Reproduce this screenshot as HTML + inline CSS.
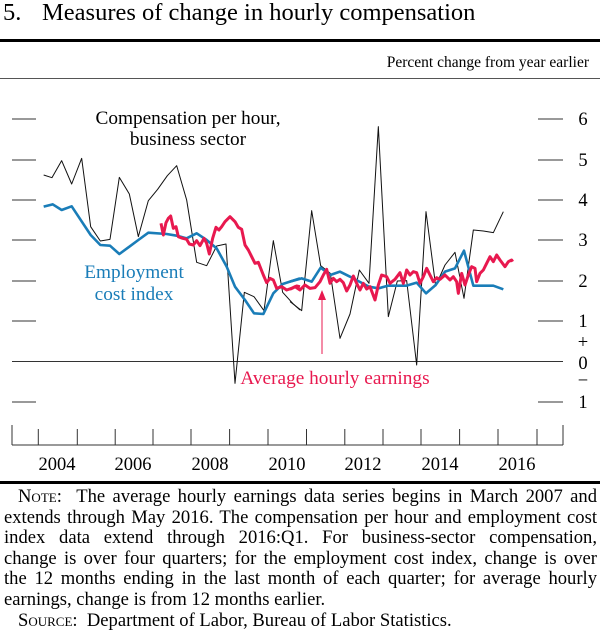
<!DOCTYPE html>
<html><head><meta charset="utf-8"><style>
body{margin:0;width:600px;height:635px;background:#fff;overflow:hidden;font-family:"Liberation Serif","Times New Roman",serif;position:relative}
.n{position:absolute;left:4px;width:593px;font-size:18.6px;line-height:20.6px;color:#000}
.n div{text-align:justify;text-align-last:justify;white-space:nowrap}
.n div.l{text-align-last:left}
.sc{font-variant:small-caps}
</style></head><body>
<svg width="600" height="635" style="position:absolute;left:0;top:0" font-family="Liberation Serif, Times New Roman, serif">
<text x="3" y="20" font-size="24.5">5.</text>
<text x="42" y="20" font-size="24.5">Measures of change in hourly compensation</text>
<rect x="0" y="39" width="600" height="3" fill="#000"/>
<text x="589" y="67" font-size="15.5" text-anchor="end">Percent change from year earlier</text>
<rect x="0" y="78" width="600" height="1" fill="#555"/>
<rect x="0" y="481" width="600" height="3" fill="#000"/>
<g stroke="#333" stroke-width="1">
<line x1="12" y1="119" x2="36" y2="119"/><line x1="12" y1="160" x2="36" y2="160"/><line x1="12" y1="200" x2="36" y2="200"/><line x1="12" y1="240" x2="36" y2="240"/><line x1="12" y1="281" x2="36" y2="281"/><line x1="12" y1="321" x2="36" y2="321"/><line x1="12" y1="402" x2="36" y2="402"/>
<line x1="538" y1="119" x2="563" y2="119"/><line x1="538" y1="160" x2="563" y2="160"/><line x1="538" y1="200" x2="563" y2="200"/><line x1="538" y1="240" x2="563" y2="240"/><line x1="538" y1="281" x2="563" y2="281"/><line x1="538" y1="321" x2="563" y2="321"/><line x1="538" y1="402" x2="563" y2="402"/>
<line x1="12" y1="361.5" x2="563" y2="361.5"/>
<line x1="12" y1="445" x2="563" y2="445"/>
<line x1="12" y1="425" x2="12" y2="445"/><line x1="563" y1="425" x2="563" y2="445"/>
<line x1="38.3" y1="429" x2="38.3" y2="445"/><line x1="77.3" y1="429" x2="77.3" y2="445"/><line x1="115.2" y1="429" x2="115.2" y2="445"/><line x1="153" y1="429" x2="153" y2="445"/><line x1="191" y1="429" x2="191" y2="445"/><line x1="229.6" y1="429" x2="229.6" y2="445"/><line x1="268" y1="429" x2="268" y2="445"/><line x1="306.5" y1="429" x2="306.5" y2="445"/><line x1="344.8" y1="429" x2="344.8" y2="445"/><line x1="383" y1="429" x2="383" y2="445"/><line x1="421" y1="429" x2="421" y2="445"/><line x1="459.6" y1="429" x2="459.6" y2="445"/><line x1="498" y1="429" x2="498" y2="445"/><line x1="537" y1="429" x2="537" y2="445"/>
</g>
<g font-size="18.5" text-anchor="middle">
<text x="57" y="470">2004</text><text x="133" y="470">2006</text><text x="210" y="470">2008</text><text x="287" y="470">2010</text><text x="363" y="470">2012</text><text x="440" y="470">2014</text><text x="517" y="470">2016</text>
<text x="583" y="125">6</text><text x="583" y="166">5</text><text x="583" y="206">4</text><text x="583" y="246">3</text><text x="583" y="287">2</text><text x="583" y="327">1</text>
<text x="583" y="348">+</text><text x="583" y="369">0</text><text x="583" y="386">−</text><text x="583" y="408">1</text>
</g>
<g font-size="19.3" text-anchor="middle">
<text x="188" y="124">Compensation per hour,</text>
<text x="188" y="145">business sector</text>
<text x="134" y="278" fill="#1a7db8">Employment</text>
<text x="134" y="300" fill="#1a7db8">cost index</text>
<text x="335" y="384" fill="#e8194f">Average hourly earnings</text>
</g>
<line x1="322" y1="354" x2="322" y2="300" stroke="#e8194f" stroke-width="1"/>
<polygon points="322,290 318,300 326,300" fill="#e8194f"/>
<g fill="none" stroke-linejoin="round">
<g transform="translate(0,90) scale(0.33333)">
<polyline vector-effect="non-scaling-stroke" stroke="#111" stroke-width="1" points="131,255 156,263 185,212 215,282 245,205 272,410 301,453 330,448 358,262 388,312 415,440 445,332 473,298 502,257 530,227 560,330 590,517 620,527 650,468 678,462 705,880 733,607 762,620 792,662 820,452 848,607 878,640 900,660"/>
<polyline vector-effect="non-scaling-stroke" stroke="#1a7db8" stroke-width="2.6" points="131,350 158,343 185,360 215,349 272,435 301,465 330,467 358,492 388,470 415,450 445,428 500,432 530,437 560,445 590,430 620,450 650,475 680,530 705,590 735,630 762,670 790,672 820,610 848,582 900,565"/>
<polyline vector-effect="non-scaling-stroke" stroke="#e8194f" stroke-width="3" points="483,400 490,435 498,398 505,385 512,378 520,415 528,410 535,440 548,445 560,448 568,462 580,465 590,452 600,467 612,445 620,460 628,492 638,445 648,412 657,420 665,410 675,395 690,380 705,395 715,412 725,418 735,465 745,480 755,500 765,520 775,517 790,555 800,578 810,565 820,570 830,595 845,590 860,600 875,595 890,588 900,590"/>
</g>
<g transform="translate(290,90) scale(0.33333)">
<polyline vector-effect="non-scaling-stroke" stroke="#111" stroke-width="1" points="0,635 35,662 65,362 92,527 121,550 150,745 180,672 208,540 237,580 265,110 295,680 322,573 350,572 380,825 408,365 437,588 465,525 495,487 522,625 550,420 580,423 610,428 640,365"/>
<polyline vector-effect="non-scaling-stroke" stroke="#1a7db8" stroke-width="2.6" points="0,575 35,565 65,575 92,533 121,555 150,545 180,560 208,575 237,590 265,595 295,587 322,587 350,587 380,578 408,610 437,585 465,545 495,535 522,482 550,587 580,587 610,587 640,598"/>
<polyline vector-effect="non-scaling-stroke" stroke="#e8194f" stroke-width="3" points="0,598 15,590 30,600 45,585 60,595 75,593 90,575 100,555 110,538 120,580 130,565 140,575 150,568 160,578 170,603 180,585 190,558 200,580 210,600 220,580 230,597 240,590 255,630 265,585 275,555 290,560 300,580 315,568 330,548 340,580 350,540 360,555 370,545 380,548 390,580 400,560 410,535 420,555 430,575 440,563 450,568 465,555 480,570 490,560 500,575 505,610 515,550 525,585 535,555 545,530 555,535 560,575 570,550 580,540 590,520 600,500 610,515 620,495 630,510 645,530 655,515 665,510 668,515"/>
</g>
</g>
</svg>
<div class="n" style="top:487px">
<div style="padding-left:14px"><span class="sc">Note</span>:&nbsp; The average hourly earnings data series begins in March 2007 and</div>
<div>extends through May 2016. The compensation per hour and employment cost</div>
<div>index data extend through 2016:Q1. For business-sector compensation,</div>
<div>change is over four quarters; for the employment cost index, change is over</div>
<div>the 12 months ending in the last month of each quarter; for average hourly</div>
<div class="l">earnings, change is from 12 months earlier.</div>
<div class="l" style="padding-left:14px"><span class="sc">Source</span>:&nbsp; Department of Labor, Bureau of Labor Statistics.</div>
</div>
</body></html>
